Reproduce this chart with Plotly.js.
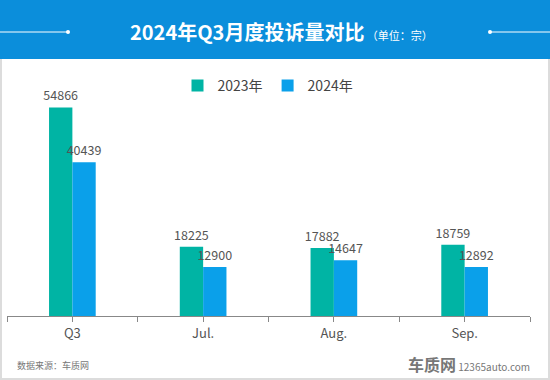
<!DOCTYPE html>
<html><head><meta charset="utf-8">
<script src="https://cdn.plot.ly/plotly-3.0.1.min.js"></script>
<style>html,body{margin:0;padding:0;background:#fff}#chart{width:550px;height:380px}</style>
</head><body><div id="chart"></div>
<script>
const categories = ['Q3', 'Jul.', 'Aug.', 'Sep.'];
const values2023 = [54866, 18225, 17882, 18759];
const values2024 = [40439, 12900, 14647, 12892];
const seriesNames = ['2023年', '2024年'];

const W = 550, H = 380;
const M = {l: 7, r: 20, t: 70, b: 64};
const plotH = H - M.t - M.b, plotW = W - M.l - M.r;
const py = p => (H - M.b - p) / plotH;
const px = p => (p - M.l) / plotW;
const FONT = '"Noto Sans CJK SC", "Open Sans", sans-serif';

const traces = [
  {type: 'bar', name: seriesNames[0], x: categories, y: values2023,
   marker: {color: '#00b4a4'}, text: values2023.map(String), textposition: 'outside', constraintext: 'none',
   textfont: {color: '#555', size: 12.5, family: FONT}, cliponaxis: false, hoverinfo: 'skip'},
  {type: 'bar', name: seriesNames[1], x: categories, y: values2024,
   marker: {color: '#0aa0ea'}, text: values2024.map(String), textposition: 'outside', constraintext: 'none',
   textfont: {color: '#555', size: 12.5, family: FONT}, cliponaxis: false, hoverinfo: 'skip'},
  {type: 'scatter', mode: 'markers', x: categories, y: categories.map(() => 0), xaxis: 'x2',
   marker: {opacity: 0}, showlegend: false, hoverinfo: 'skip'}
];

const layout = {
  width: W, height: H, margin: M,
  paper_bgcolor: '#fff', plot_bgcolor: '#fff',
  font: {family: FONT, color: '#555'},
  barmode: 'group', bargap: 0.643, bargroupgap: 0,
  showlegend: true,
  legend: {orientation: 'h', x: px(268), xanchor: 'center', y: py(86), yanchor: 'middle',
    font: {size: 14, color: '#444', family: FONT}, itemwidth: 30, traceorder: 'normal'},
  xaxis: {type: 'category', range: [-0.5, 3.5], showline: true, linecolor: '#888', linewidth: 1,
    ticks: 'outside', ticklen: 5, tickcolor: '#888', tickfont: {size: 13, color: '#555', family: FONT},
    showgrid: false, zeroline: false, fixedrange: true},
  xaxis2: {type: 'category', overlaying: 'x', side: 'bottom', range: [-0.5, 3.5], tickson: 'boundaries',
    ticks: 'outside', ticklen: 5, tickcolor: '#888', showticklabels: false, showline: false,
    showgrid: false, zeroline: false, anchor: 'y'},
  yaxis: {range: [0, 64700], visible: false, showgrid: false, zeroline: false, fixedrange: true},
  shapes: [
    {type: 'rect', xref: 'paper', yref: 'paper', x0: px(1), x1: px(549), y0: py(379), y1: py(58),
     line: {color: '#dcdcdc', width: 2}, fillcolor: 'rgba(0,0,0,0)', layer: 'below'},
    {type: 'rect', xref: 'paper', yref: 'paper', x0: px(0), x1: px(550), y0: py(59), y1: py(0),
     line: {width: 0}, fillcolor: '#0b8edb'},
    {type: 'line', xref: 'paper', yref: 'paper', x0: px(0), x1: px(68), y0: py(32), y1: py(32),
     line: {color: '#fff', width: 1}},
    {type: 'circle', xref: 'paper', yref: 'paper', x0: px(66), x1: px(70), y0: py(34), y1: py(30),
     line: {width: 0}, fillcolor: '#fff'},
    {type: 'line', xref: 'paper', yref: 'paper', x0: px(490), x1: px(550), y0: py(32), y1: py(32),
     line: {color: '#fff', width: 1}},
    {type: 'circle', xref: 'paper', yref: 'paper', x0: px(488), x1: px(492), y0: py(34), y1: py(30),
     line: {width: 0}, fillcolor: '#fff'}
  ],
  annotations: [
    {xref: 'paper', yref: 'paper', x: px(281), y: py(32), xanchor: 'center', yanchor: 'middle', showarrow: false,
     text: '<b>2024年Q3月度投诉量对比</b><span style="font-size:11px"> （单位：宗）</span>',
     font: {size: 20, color: '#fff', family: FONT}},
    {xref: 'paper', yref: 'paper', x: px(15), y: py(365), xanchor: 'left', yanchor: 'middle', showarrow: false,
     text: '数据来源：车质网', font: {size: 9, color: '#777', family: FONT}},
    {xref: 'paper', yref: 'paper', x: px(532), y: py(364), xanchor: 'right', yanchor: 'middle', showarrow: false,
     text: '<b><span style="font-size:16px">车质网</span></b> 12365auto.com', font: {size: 10, color: '#777', family: FONT}}
  ]
};

Plotly.newPlot('chart', traces, layout, {displayModeBar: false, staticPlot: true});
</script></body></html>
